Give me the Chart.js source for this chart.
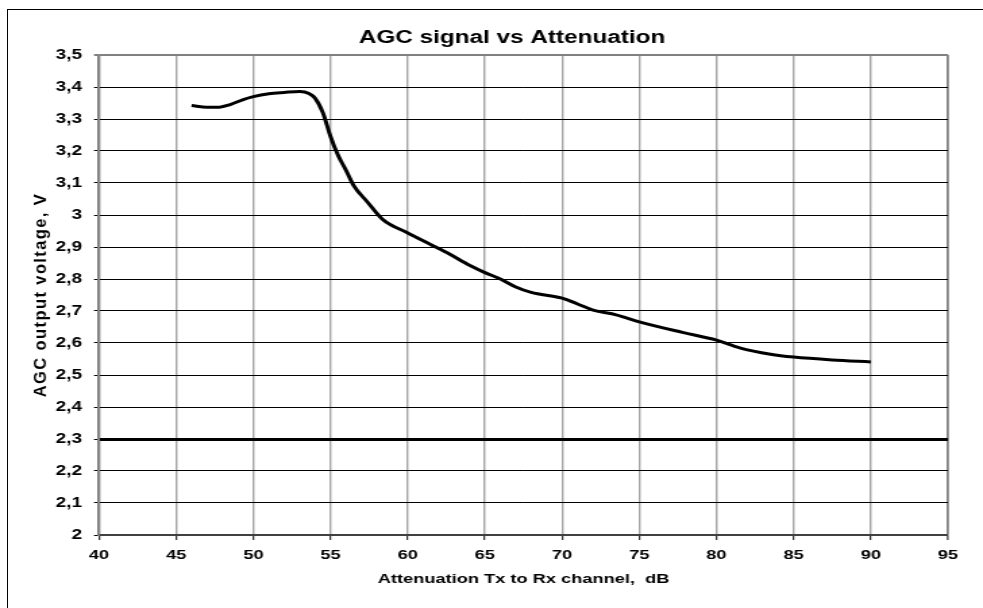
<!DOCTYPE html>
<html>
<head>
<meta charset="utf-8">
<script src="https://cdn.jsdelivr.net/npm/chart.js@4/dist/chart.umd.min.js"></script>
<style>
  html, body { margin: 0; padding: 0; background: #ffffff; }
  #wrap { position: relative; width: 983px; height: 608px; overflow: hidden; background: #ffffff; }
  #frame { position: absolute; left: 7px; top: 9px; width: 1000px; height: 700px; border-left: 1px solid #000; border-top: 1px solid #000; box-sizing: border-box; }
  #c { position: absolute; left: 0; top: 0; }
</style>
</head>
<body>
<div id="wrap">
  <div id="frame"></div>
  <!-- the reference is a horizontally widened picture: draw at 728 wide, show at 983 -->
  <canvas id="c" width="728" height="608" style="width:983px;height:608px"></canvas>
</div>
<script>
// ---- data ----
const attenuationDb = [46.0, 47.0, 47.8, 48.5, 49.3, 50.0, 51.0, 52.0, 53.0, 53.6, 54.0, 54.5, 55.0, 55.5, 56.0, 56.5, 57.4, 58.4, 60.0, 61.6, 62.7, 64.0, 65.0, 66.0, 67.0, 68.0, 70.0, 71.0, 72.0, 73.5, 75.0, 77.8, 80.0, 81.5, 83.5, 85.0, 87.5, 90.0];
const agcVoltage   = [3.342, 3.337, 3.337, 3.345, 3.360, 3.370, 3.379, 3.383, 3.386, 3.380, 3.365, 3.320, 3.245, 3.185, 3.140, 3.092, 3.040, 2.985, 2.944, 2.905, 2.878, 2.843, 2.820, 2.800, 2.775, 2.758, 2.740, 2.722, 2.703, 2.688, 2.666, 2.633, 2.609, 2.585, 2.565, 2.556, 2.547, 2.541];
const xTickValues = [40, 45, 50, 55, 60, 65, 70, 75, 80, 85, 90, 95];
const xTickLabels = ['40', '45', '50', '55', '60', '65', '70', '75', '80', '85', '90', '95'];
const yTickValues = [2.0, 2.1, 2.2, 2.3, 2.4, 2.5, 2.6, 2.7, 2.8, 2.9, 3.0, 3.1, 3.2, 3.3, 3.4, 3.5];
const yTickLabels = ['2', '2,1', '2,2', '2,3', '2,4', '2,5', '2,6', '2,7', '2,8', '2,9', '3', '3,1', '3,2', '3,3', '3,4', '3,5'];
const thresholdValue = 2.3;
const chartTitle = 'AGC signal vs Attenuation';
const xTitle = 'Attenuation Tx to Rx channel,  dB';
const yTitle = 'AGC output voltage, V';

const FAMILY = '"Liberation Sans", Arial, sans-serif';
const STRETCH = 983 / 728;
const near = (a, b) => Math.abs(a - b) < 1e-6;

// the rotated y title is not widened in the reference: undo the stretch for it only
const Y_TITLE_FONT = 16.5;
const Y_TITLE_PAD = 20.5;
const yTitleFix = {
  id: 'yTitleFix',
  beforeDraw(chart) {
    const sc = chart.scales.y;
    if (!sc || sc.__fixed) return;
    const orig = sc.drawTitle;
    sc.drawTitle = function () {
      const ctx = this.ctx;
      const cx = this.left + Y_TITLE_FONT * 1.2 / 2 + Y_TITLE_PAD;
      ctx.save();
      ctx.letterSpacing = '1.4px';
      ctx.translate(cx, 0);
      ctx.scale(1 / STRETCH, 1);
      ctx.translate(-cx, 0);
      orig.call(this);
      ctx.restore();
    };
    sc.__fixed = true;
  }
};

new Chart(document.getElementById('c'), {
  type: 'line',
  plugins: [yTitleFix],
  data: {
    datasets: [{
      data: attenuationDb.map((x, i) => ({ x: x, y: agcVoltage[i] })),
      borderColor: '#000000',
      borderWidth: 3,
      pointRadius: 0,
      cubicInterpolationMode: 'monotone',
      fill: false
    }]
  },
  options: {
    responsive: false,
    devicePixelRatio: 1,
    animation: false,
    layout: { padding: { left: 0, right: -30.37, top: 0, bottom: 0 } },
    plugins: {
      legend: { display: false },
      tooltip: { enabled: false },
      title: {
        display: true,
        text: chartTitle,
        color: '#000000',
        font: { family: FAMILY, size: 18, weight: 'bold' },
        padding: { top: 26.9, bottom: 6.5 }
      }
    },
    scales: {
      x: {
        type: 'linear',
        min: 40, max: 95,
        afterBuildTicks: (s) => { s.ticks = xTickValues.map(v => ({ value: v })); },
        afterFit: (s) => { s.height = 73; },
        ticks: {
          color: '#000000',
          font: { family: FAMILY, size: 13.5, weight: 'bold' },
          padding: 7.5,
          maxRotation: 0,
          callback: (v) => xTickLabels[xTickValues.indexOf(v)]
        },
        grid: {
          drawTicks: true,
          tickLength: 5,
          tickColor: '#000000',
          tickWidth: 1,
          color: (ctx) => (ctx.tick && ctx.tick.value === 95) ? '#808080' : '#a4a4a4',
          lineWidth: (ctx) => (ctx.tick && ctx.tick.value === 95) ? 1.8 : 1.4
        },
        border: { display: true, color: '#404040', width: 2 },
        title: {
          display: true,
          text: xTitle,
          color: '#000000',
          font: { family: FAMILY, size: 13.5, weight: 'bold' },
          padding: { top: 0, bottom: 20.5 }
        }
      },
      y: {
        type: 'linear',
        min: 2, max: 3.5,
        afterBuildTicks: (s) => { s.ticks = yTickValues.map(v => ({ value: v })); },
        afterFit: (s) => { s.width = 73.32; },
        ticks: {
          color: '#000000',
          font: { family: FAMILY, size: 14, weight: 'bold' },
          padding: 8.9,
          callback: (v) => yTickLabels[yTickValues.findIndex(t => near(t, v))]
        },
        grid: {
          drawTicks: true,
          tickLength: 3.7,
          tickColor: '#000000',
          tickWidth: 1,
          color: (ctx) => (ctx.tick && near(ctx.tick.value, 3.5)) ? '#808080' : '#000000',
          lineWidth: (ctx) => {
            if (!ctx.tick) return 1;
            if (near(ctx.tick.value, thresholdValue)) return 3;
            if (near(ctx.tick.value, 3.5)) return 2;
            return 1;
          }
        },
        border: { display: true, color: '#808080', width: 1.8 },
        title: {
          display: true,
          text: yTitle,
          color: '#000000',
          font: { family: FAMILY, size: Y_TITLE_FONT, weight: 'bold' },
          padding: { top: Y_TITLE_PAD, bottom: 0 }
        }
      },
      yRight: {
        type: 'linear',
        position: 'right',
        display: true,
        min: 0, max: 1,
        afterFit: (s) => { s.width = 56.29; },
        ticks: { display: false },
        grid: { display: false },
        border: { display: false },
        title: { display: false }
      }
    }
  }
});
</script>
</body>
</html>
